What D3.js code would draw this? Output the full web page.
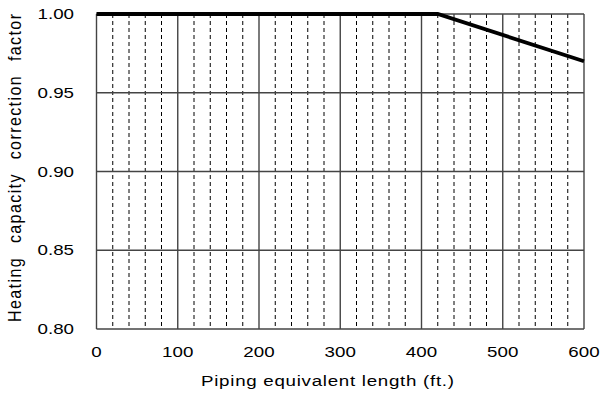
<!DOCTYPE html>
<html><head><meta charset="utf-8">
<script src="https://cdn.jsdelivr.net/npm/d3@7"></script>
<style>body{margin:0;background:#fff;} text{font-family:"Liberation Sans",Arial,sans-serif;fill:#000;}</style>
</head><body><svg id="c" width="600" height="396"></svg>
<script>
const lengthFt = [0, 420, 600];
const factor = [1.00, 1.00, 0.97];
const xTicks = [0, 100, 200, 300, 400, 500, 600];
const yTicks = [0.80, 0.85, 0.90, 0.95, 1.00];
const xMinor = d3.range(0, 601, 20).filter(v => v % 100 !== 0);

const svg = d3.select("#c");
const m = {l: 96.5, r: 584, t: 14, b: 329};
const x = d3.scaleLinear().domain([0, 600]).range([m.l, m.r]);
const y = d3.scaleLinear().domain([0.80, 1.00]).range([m.b, m.t]);
const SX = 1.25;

const g = svg.append("g");
g.selectAll(".minor").data(xMinor).enter().append("line")
  .attr("x1", d => x(d)).attr("x2", d => x(d)).attr("y1", m.t).attr("y2", m.b)
  .attr("stroke", "#000").attr("stroke-width", 1).attr("stroke-dasharray", "4,3");
g.selectAll(".vx").data(xTicks).enter().append("line")
  .attr("x1", d => x(d)).attr("x2", d => x(d)).attr("y1", m.t).attr("y2", m.b)
  .attr("stroke", "#444").attr("stroke-width", 1.4);
g.selectAll(".hy").data(yTicks).enter().append("line")
  .attr("x1", m.l).attr("x2", m.r).attr("y1", d => y(d)).attr("y2", d => y(d))
  .attr("stroke", "#444").attr("stroke-width", 1.4);

g.selectAll(".xl").data(xTicks).enter().append("text")
  .attr("transform", d => `translate(${x(d)},357) scale(${SX},1)`)
  .attr("text-anchor", "middle").attr("font-size", 15).text(d => d);
g.selectAll(".yl").data(yTicks).enter().append("text")
  .attr("transform", d => `translate(74,${y(d) + 5}) scale(${SX},1)`)
  .attr("text-anchor", "end").attr("font-size", 15).text(d => d.toFixed(2));

const line = d3.line().x((d, i) => x(lengthFt[i])).y(d => y(d));
svg.append("path").datum(factor).attr("d", line)
  .attr("fill", "none").attr("stroke", "#000").attr("stroke-width", 3.8);

svg.append("text").attr("transform", `translate(327.5,386) scale(${SX},1)`)
  .attr("text-anchor", "middle").attr("font-size", 15)
  .attr("textLength", 253 / SX).attr("lengthAdjust", "spacing")
  .text("Piping equivalent length (ft.)");
svg.append("text").attr("transform", `translate(21,168) rotate(-90) scale(1,1.2)`)
  .attr("text-anchor", "middle").attr("font-size", 16).attr("word-spacing", 8)
  .attr("textLength", 308).attr("lengthAdjust", "spacing")
  .text("Heating capacity correction factor");
</script></body></html>
